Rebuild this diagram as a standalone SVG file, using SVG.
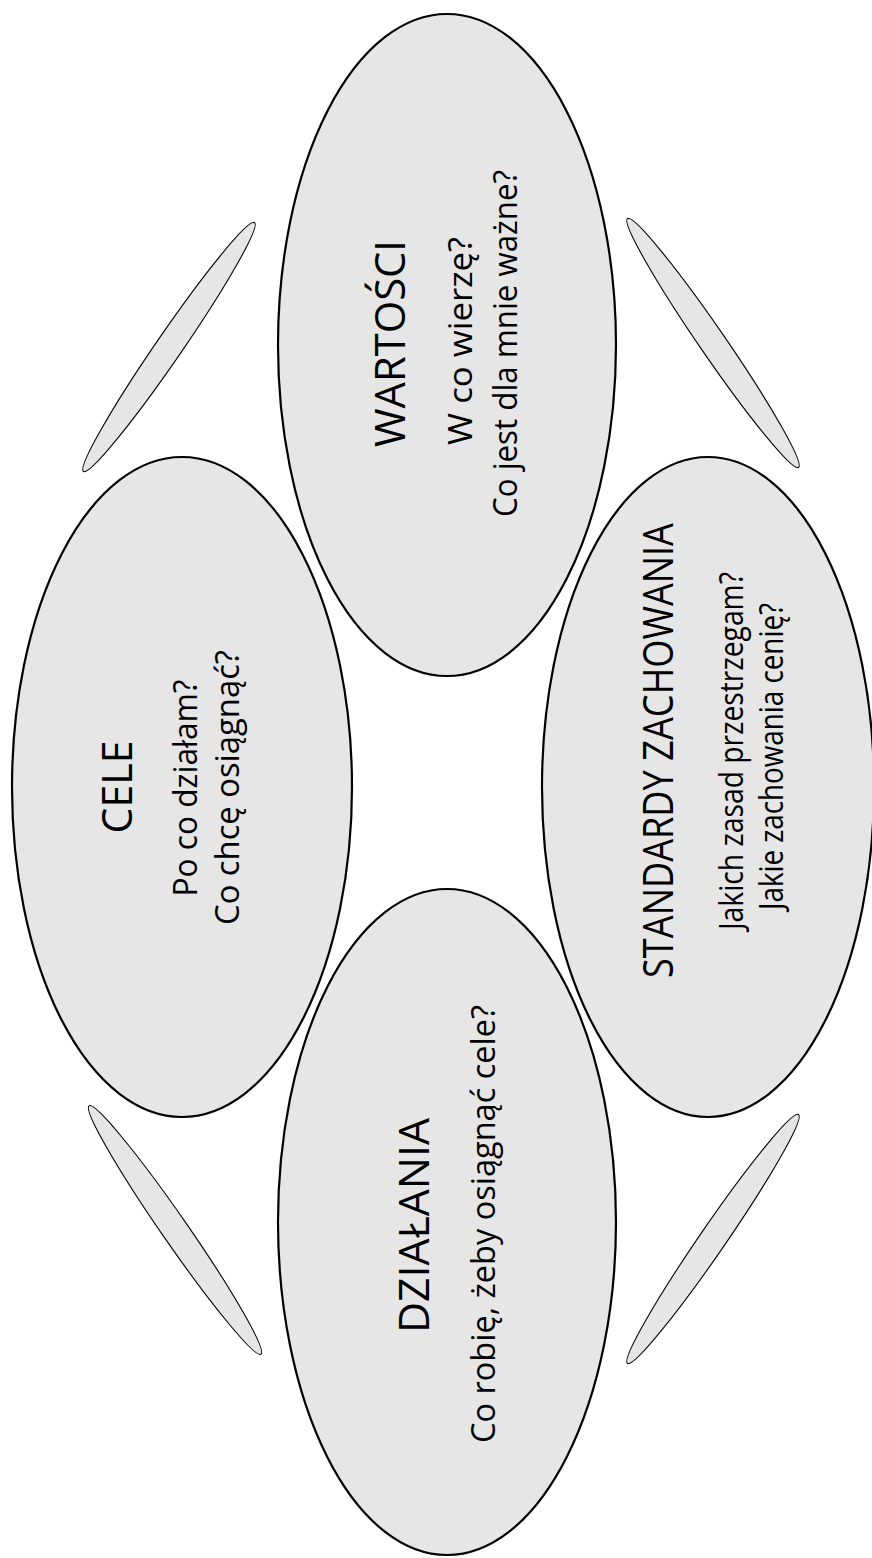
<svg xmlns="http://www.w3.org/2000/svg" width="872" height="1558" viewBox="0 0 872 1558">
<style>
.big{fill:#e6e6e6;stroke:#000;stroke-width:2.2}
.small{fill:#e6e6e6;stroke:#000;stroke-width:1.1}
.t{font-family:"Open Sans","Noto Sans","DejaVu Sans",sans-serif;fill:#000;text-anchor:middle}
.title{font-size:42px}
.sub{font-size:33px}
</style>
<rect width="872" height="1558" fill="#fff"/>
<g id="connectors">
<ellipse class="small" cx="169" cy="347" rx="151" ry="13" transform="rotate(-55.5 169 347)"/>
<ellipse class="small" cx="713" cy="343" rx="151" ry="13" transform="rotate(55.5 713 343)"/>
<ellipse class="small" cx="175" cy="1230" rx="151" ry="13" transform="rotate(55.3 175 1230)"/>
<ellipse class="small" cx="713" cy="1239" rx="151" ry="13" transform="rotate(-55.5 713 1239)"/>
</g>
<g id="wartosci">
<ellipse class="big" cx="447" cy="345" rx="169" ry="331"/>
<text class="t title" transform="translate(405 343.5) rotate(-90)" textLength="207" lengthAdjust="spacingAndGlyphs">WARTOŚCI</text>
<text class="t sub" transform="translate(472 341) rotate(-90)" textLength="208" lengthAdjust="spacingAndGlyphs">W co wierzę?</text>
<text class="t sub" transform="translate(517 343.5) rotate(-90)" textLength="347" lengthAdjust="spacingAndGlyphs">Co jest dla mnie ważne?</text>
</g>
<g id="cele">
<ellipse class="big" cx="182" cy="787" rx="170" ry="330"/>
<text class="t title" transform="translate(132 787) rotate(-90)" textLength="93" lengthAdjust="spacingAndGlyphs">CELE</text>
<text class="t sub" transform="translate(197 788) rotate(-90)" textLength="217" lengthAdjust="spacingAndGlyphs">Po co działam?</text>
<text class="t sub" transform="translate(239 787.5) rotate(-90)" textLength="275" lengthAdjust="spacingAndGlyphs">Co chcę osiągnąć?</text>
</g>
<g id="standardy">
<ellipse class="big" cx="708" cy="787" rx="166" ry="330"/>
<text class="t title" transform="translate(673 750.5) rotate(-90)" textLength="455" lengthAdjust="spacingAndGlyphs">STANDARDY ZACHOWANIA</text>
<text class="t sub" transform="translate(743 751) rotate(-90)" textLength="358" lengthAdjust="spacingAndGlyphs">Jakich zasad przestrzegam?</text>
<text class="t sub" transform="translate(783 756.5) rotate(-90)" textLength="307" lengthAdjust="spacingAndGlyphs">Jakie zachowania cenię?</text>
</g>
<g id="dzialania">
<ellipse class="big" cx="447" cy="1222" rx="169" ry="333"/>
<text class="t title" transform="translate(429 1225.5) rotate(-90)" textLength="215" lengthAdjust="spacingAndGlyphs">DZIAŁANIA</text>
<text class="t sub" transform="translate(495 1224) rotate(-90)" textLength="438" lengthAdjust="spacingAndGlyphs">Co robię, żeby osiągnąć cele?</text>
</g>
</svg>
